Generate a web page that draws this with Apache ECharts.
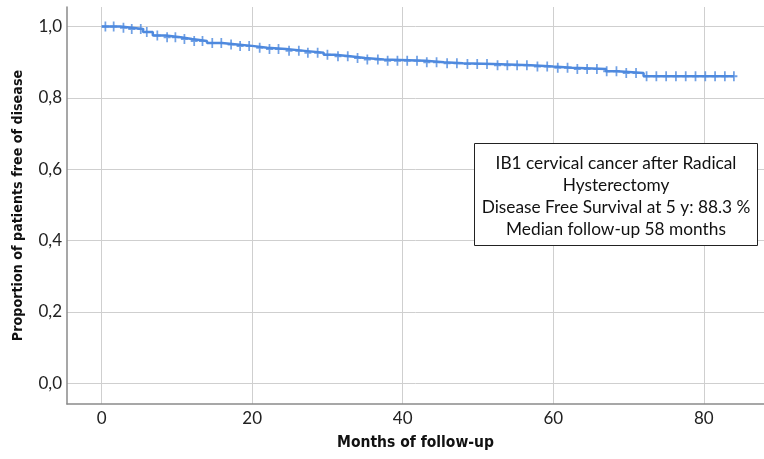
<!DOCTYPE html>
<html>
<head>
<meta charset="utf-8">
<script src="https://cdn.jsdelivr.net/npm/echarts@6/dist/echarts.min.js"></script>
<style>html,body{margin:0;padding:0;background:#fff}#c{width:764px;height:459px}</style>
</head>
<body>
<div id="c"></div>
<script>
// Kaplan-Meier step data (months, proportion free of disease)
const stepTimes = [0, 2.5, 4, 5.5, 6.8, 8.5, 10.5, 12, 14, 16, 18, 20, 22, 24.5, 27, 29.5, 31, 33, 35, 37.5, 43, 45.5, 48, 52, 57, 60, 62.5, 67, 68.5, 72, 84];
const stepSurv  = [1.0, 0.997, 0.993, 0.985, 0.975, 0.970, 0.965, 0.960, 0.954, 0.950, 0.946, 0.941, 0.937, 0.932, 0.927, 0.921, 0.917, 0.912, 0.908, 0.904, 0.900, 0.897, 0.895, 0.892, 0.888, 0.885, 0.881, 0.875, 0.870, 0.861, 0.861];
// censored observation times
const censorTimes = [0.5, 1.6, 2.9, 4.0, 5.2, 6.0, 7.4, 8.7, 9.8, 11.0, 12.3, 13.4, 14.7, 15.9, 17.2, 18.4, 19.6, 21.0, 22.3, 23.5, 24.9, 26.2, 27.4, 28.7, 30.0, 31.4, 32.7, 34.0, 35.3, 36.7, 38.0, 39.3, 40.6, 41.9, 43.2, 44.5, 45.9, 47.2, 48.6, 49.9, 51.2, 52.6, 53.9, 55.2, 56.5, 57.9, 59.2, 60.6, 61.9, 63.2, 64.5, 65.8, 67.1, 68.4, 69.7, 71.0, 72.4, 73.7, 75.0, 76.3, 77.6, 78.9, 80.2, 81.5, 82.8, 84.0];
const xTicks = [0, 20, 40, 60, 80];
const yTicks = [0, 0.2, 0.4, 0.6, 0.8, 1.0];
const boxLines = ['IB1 cervical cancer after Radical', 'Hysterectomy', 'Disease Free Survival at 5 y: 88.3 %', 'Median follow-up 58 months'];

function survAt(t) {
  let s = stepSurv[0];
  for (let i = 0; i < stepTimes.length; i++) { if (stepTimes[i] <= t) s = stepSurv[i]; }
  return s;
}

const chart = echarts.init(document.getElementById('c'), null, {renderer: 'canvas'});
const blue = '#4e89de';
const gridCol = '#cfcfcf';
const axisCol = '#8a8a8a';
const plusPath = 'path://M3,0h2v4h3v2h-3v4h-2v-4h-3v-2h3z';

chart.setOption({
  animation: false,
  backgroundColor: '#fff',
  grid: {left: 67, right: 0, top: 7, bottom: 55, outerBoundsMode: 'none', containLabel: false},
  xAxis: {
    type: 'value', min: -4.6, max: 88,
    name: 'Months of follow-up', nameLocation: 'middle', nameGap: 31,
    nameTextStyle: {fontFamily: 'DejaVu Sans Condensed', fontWeight: 'bold', fontSize: 15.5, color: '#111'},
    axisLine: {show: true, onZero: false, lineStyle: {color: axisCol, width: 1.5}},
    axisTick: {show: false, customValues: xTicks},
    axisLabel: {customValues: xTicks, fontFamily: 'Lato', fontSize: 17, color: '#222', margin: 6,
      formatter: v => String(v)},
    splitLine: {show: true, lineStyle: {color: gridCol, width: 1}}
  },
  yAxis: {
    type: 'value', min: -0.058, max: 1.055,
    name: 'Proportion of patients free of disease', nameLocation: 'middle', nameGap: 42,
    nameTextStyle: {fontFamily: 'DejaVu Sans Condensed', fontWeight: 'bold', fontSize: 14.2, color: '#111'},
    axisLine: {show: true, onZero: false, lineStyle: {color: axisCol, width: 1.5}},
    axisTick: {show: false, customValues: yTicks},
    axisLabel: {customValues: yTicks, fontFamily: 'Lato', fontSize: 17, color: '#222', margin: 5,
      formatter: v => v.toFixed(1).replace('.', ',')},
    splitLine: {show: true, lineStyle: {color: gridCol, width: 1}}
  },
  series: [
    {
      type: 'line', step: 'end', showSymbol: false,
      data: stepTimes.map((t, i) => [t, stepSurv[i]]),
      lineStyle: {color: blue, width: 2.5}, silent: true
    },
    {
      type: 'scatter', symbol: plusPath, symbolSize: [7, 10],
      data: censorTimes.map(t => [t, survAt(t)]),
      itemStyle: {color: blue}, silent: true
    }
  ],
  graphic: [
    {type: 'rect', shape: {x: 474.5, y: 143.5, width: 283, height: 102},
     style: {fill: '#fff', stroke: '#222', lineWidth: 1}, z: 100},
    ...boxLines.map((s, i) => ({
      type: 'text', x: 616, y: 163 + i * 22.3, z: 101,
      style: {text: s, align: 'center', verticalAlign: 'middle', fontFamily: 'Lato', fontSize: 17.3, fill: '#111'}
    }))
  ]
});
</script>
</body>
</html>
